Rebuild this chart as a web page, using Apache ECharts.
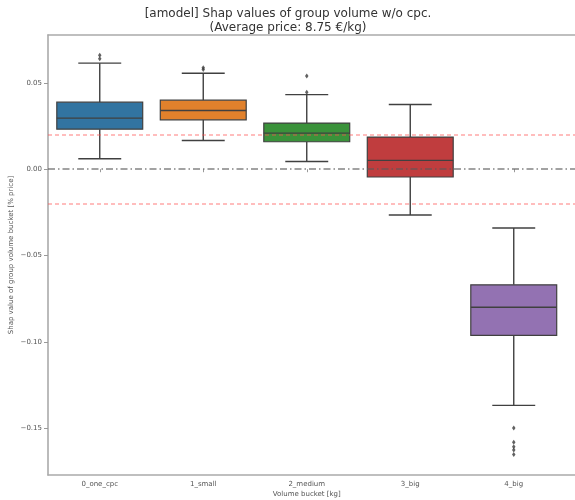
<!DOCTYPE html>
<html><head><meta charset="utf-8">
<script src="https://cdn.jsdelivr.net/npm/echarts@6/dist/echarts.min.js"></script>
<style>html,body{margin:0;padding:0;background:#fff}#c{width:575px;height:500px}</style>
</head><body><div id="c"></div>
<script>
// ---- data ----
const categories = ['0_one_cpc', '1_small', '2_medium', '3_big', '4_big'];
const lowerWhisker = [0.0061, 0.0166, 0.0045, -0.0265, -0.1367];
const q1 = [0.0232, 0.0286, 0.0159, -0.0045, -0.0962];
const median = [0.0296, 0.0340, 0.0209, 0.0051, -0.0799];
const q3 = [0.0388, 0.0400, 0.0267, 0.0186, -0.0669];
const upperWhisker = [0.0614, 0.0556, 0.0432, 0.0375, -0.0340];
const outlierCat = [0, 0, 1, 1, 2, 2, 4, 4, 4, 4, 4];
const outlierVal = [0.0660, 0.0640, 0.0588, 0.0578, 0.0540, 0.0445, -0.1498, -0.1580, -0.1606, -0.1625, -0.1652];
const yTicks = [0.05, 0.00, -0.05, -0.10, -0.15];
const refDashed = [0.02, -0.02];
const refZero = [0.0];

// ---- styles ----
const boxColors = ['#3274a1', '#e1812c', '#3a923a', '#c03d3e', '#9372b2'];
const edge = '#404040';
const font = 'DejaVu Sans';
const yMin = -0.177, yMax = 0.0777;

const boxData = categories.map((c, i) => [i, lowerWhisker[i], q1[i], median[i], q3[i], upperWhisker[i]]);
const outlierData = outlierCat.map((c, i) => [c, outlierVal[i]]);

function renderBox(params, api) {
  const x = api.value(0);
  const lo = api.coord([x, api.value(1)]);
  const a = api.coord([x, api.value(2)]);
  const m = api.coord([x, api.value(3)]);
  const b = api.coord([x, api.value(4)]);
  const hi = api.coord([x, api.value(5)]);
  const band = api.size([1, 0])[0];
  const bw = band * 0.83, cw = bw * 0.5, cx = lo[0];
  const ls = {stroke: edge, lineWidth: 1.4};
  return {
    type: 'group',
    children: [
      {type: 'line', shape: {x1: cx, y1: b[1], x2: cx, y2: hi[1]}, style: ls},
      {type: 'line', shape: {x1: cx, y1: a[1], x2: cx, y2: lo[1]}, style: ls},
      {type: 'line', shape: {x1: cx - cw / 2, y1: hi[1], x2: cx + cw / 2, y2: hi[1]}, style: ls},
      {type: 'line', shape: {x1: cx - cw / 2, y1: lo[1], x2: cx + cw / 2, y2: lo[1]}, style: ls},
      {type: 'rect', shape: {x: cx - bw / 2, y: b[1], width: bw, height: a[1] - b[1]},
        style: {fill: boxColors[params.dataIndex], stroke: edge, lineWidth: 1.2}},
      {type: 'line', shape: {x1: cx - bw / 2, y1: m[1], x2: cx + bw / 2, y2: m[1]}, style: ls}
    ]
  };
}

const chart = echarts.init(document.getElementById('c'));
const gridPos = {left: 48, top: 35, bottom: 25, containLabel: false, outerBoundsMode: 'none'};
chart.setOption({
  animation: false,
  backgroundColor: '#fff',
  title: {
    text: '[amodel] Shap values of group volume w/o cpc.\n(Average price: 8.75 \u20ac/kg)',
    left: 283, top: 2, textAlign: 'center',
    textStyle: {fontFamily: font, fontSize: 12, fontWeight: 'normal', color: '#333', lineHeight: 14}
  },
  grid: [
    Object.assign({right: 9.5}, gridPos),
    Object.assign({right: -20}, gridPos)
  ],
  xAxis: [
    {
      type: 'category', gridIndex: 0, data: categories, boundaryGap: true,
      axisLine: {show: false},
      axisTick: {show: true, alignWithLabel: true, length: 3, lineStyle: {color: '#999', width: 1}},
      axisLabel: {fontFamily: font, fontSize: 7, color: '#555', margin: 6},
      name: 'Volume bucket [kg]', nameLocation: 'middle', nameGap: 16, nameMoveOverlap: false,
      nameTextStyle: {fontFamily: font, fontSize: 7, color: '#555'}
    },
    {
      type: 'value', gridIndex: 1, min: 0, max: 1, position: 'bottom',
      axisLine: {show: true, onZero: false, lineStyle: {color: '#aaa', width: 1.6}},
      axisTick: {show: false}, axisLabel: {show: false}, splitLine: {show: false}
    },
    {
      type: 'value', gridIndex: 1, min: 0, max: 1, position: 'top',
      axisLine: {show: true, onZero: false, lineStyle: {color: '#aaa', width: 1.6}},
      axisTick: {show: false}, axisLabel: {show: false}, splitLine: {show: false}
    }
  ],
  yAxis: [
    {
      type: 'value', gridIndex: 0, min: yMin, max: yMax,
      axisLine: {show: true, onZero: false, lineStyle: {color: '#aaa', width: 1.6}},
      axisTick: {show: true, length: 4, customValues: yTicks, lineStyle: {color: '#999', width: 1}},
      axisLabel: {
        customValues: yTicks, fontFamily: font, fontSize: 7, color: '#555', margin: 6,
        formatter: v => (v < -1e-9 ? '\u2212' : '') + Math.abs(v).toFixed(2)
      },
      splitLine: {show: false},
      name: 'Shap value of group volume bucket [% price]', nameLocation: 'middle', nameGap: 33,
      nameRotate: 90, nameMoveOverlap: false,
      nameTextStyle: {fontFamily: font, fontSize: 7, color: '#555'}
    },
    {
      type: 'value', gridIndex: 1, min: yMin, max: yMax, show: false
    }
  ],
  series: [
    {
      type: 'custom', xAxisIndex: 0, yAxisIndex: 0, renderItem: renderBox,
      data: boxData, z: 2, silent: true
    },
    {
      type: 'scatter', xAxisIndex: 0, yAxisIndex: 0, data: outlierData,
      symbol: 'diamond', symbolSize: [3.5, 5], z: 3,
      itemStyle: {color: '#3a3a3a'}, silent: true
    },
    {
      type: 'line', xAxisIndex: 1, yAxisIndex: 1, data: [], z: 5, silent: true,
      markLine: {
        silent: true, symbol: 'none', label: {show: false},
        data: refDashed.map(v => ({yAxis: v, lineStyle: {color: 'rgba(255,80,80,0.5)', width: 1.5, type: [4, 3]}}))
          .concat(refZero.map(v => ({yAxis: v, lineStyle: {color: 'rgba(90,90,90,0.75)', width: 1.5, type: [7, 3, 1.5, 3]}})))
      }
    }
  ]
});
</script>
</body></html>
